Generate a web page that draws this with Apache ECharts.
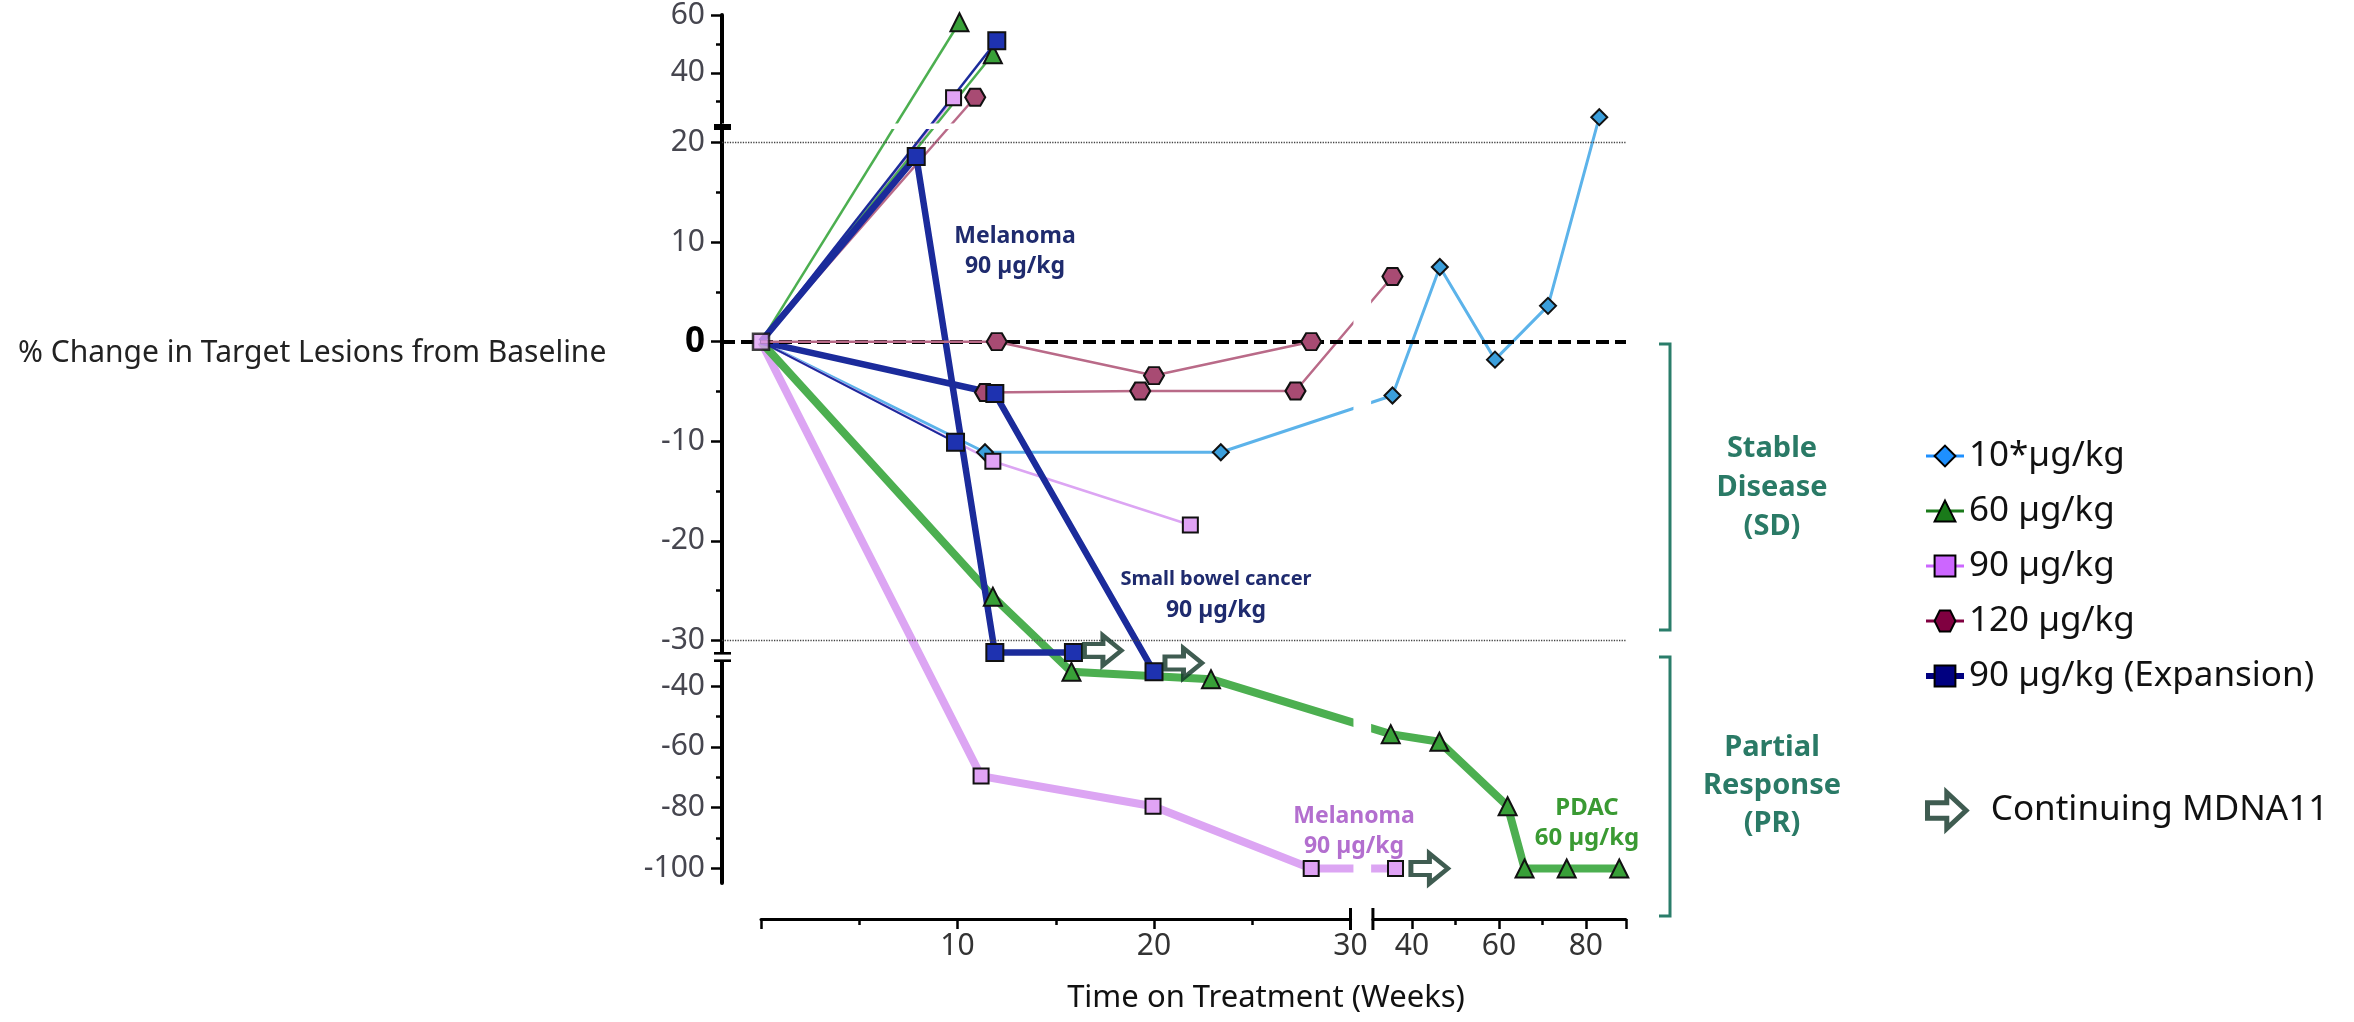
<!DOCTYPE html>
<html><head><meta charset="utf-8">
<script src="https://cdn.jsdelivr.net/npm/echarts@6/dist/echarts.min.js"></script>
<style>html,body{margin:0;padding:0;background:#fff}#c{width:2354px;height:1022px}</style>
</head><body><div id="c"></div>
<script>
// ---------------- DATA (weeks on treatment, % change from baseline) ----------------
const groupNames = ['10*µg/kg', '60 µg/kg', '90 µg/kg', '120 µg/kg', '90 µg/kg (Expansion)'];

// 10 µg/kg
const d10a_weeks = [0, 11.4, 23.4, 35.5, 46.4, 59.1, 71.3, 83.1];
const d10a_pct   = [0, -11.1, -11.1, -5.4, 7.5, -1.8, 3.6, 24.6];

// 60 µg/kg
const d60a_weeks = [0, 10.1];
const d60a_pct   = [0, 57.5];
const d60b_weeks = [0, 11.8];
const d60b_pct   = [0, 46.4];
const d60c_weeks = [0, 11.8, 15.8, 22.9, 35.1, 46.3, 62.0, 65.9, 75.6, 87.7];   // PDAC
const d60c_pct   = [0, -25.6, -35.3, -37.7, -55.8, -58.3, -79.5, -100, -100, -100];

// 90 µg/kg
const d90a_weeks = [0, 11.2, 19.95, 28.0, 36.2];                            // Melanoma
const d90a_pct   = [0, -69.6, -79.5, -100, -100];
const d90b_weeks = [0, 9.8];
const d90b_pct   = [0, 31.3];
const d90c_weeks = [0, 11.8, 21.85];
const d90c_pct   = [0, -12.0, -18.4];

// 120 µg/kg
const d120a_weeks = [0, 12.0, 20.0, 28.0];
const d120a_pct   = [0, 0, -3.4, 0];
const d120b_weeks = [0, 11.4, 19.3, 27.2, 35.5];
const d120b_pct   = [0, -5.1, -4.95, -4.95, 6.55];
const d120c_weeks = [0, 10.9];
const d120c_pct   = [0, 31.5];

// 90 µg/kg (Expansion)
const dExpA_weeks = [0, 7.9, 11.9, 15.9];                                   // Melanoma
const dExpA_pct   = [0, 18.6, -31.2, -31.2];
const dExpB_weeks = [0, 11.9, 20.0];                                        // Small bowel cancer
const dExpB_pct   = [0, -5.2, -35.3];
const dExpC_weeks = [0, 12.0];
const dExpC_pct   = [0, 51.1];
const dExpD_weeks = [0, 9.9];
const dExpD_pct   = [0, -10.1];

// baseline marker
const baseline_weeks = [0];
const baseline_pct   = [0];

// Continuing MDNA11 arrows
const cont_weeks = [17.4, 21.5, 44.0];
const cont_pct   = [-31.0, -32.4, -100];

// tick labels
const yTickLabels  = [60, 40, 20, 10, 0, -10, -20, -30, -40, -60, -80, -100];
const yMinorTicks  = [50, 30, 15, 5, -5, -15, -25, -50, -70, -90];
const xLabelsLeft  = [10, 20, 30];
const xLabelsRight = [40, 60, 80];
const xMinorRight  = [50, 70];

// ---------------- broken-axis scale transforms ----------------
const X_BREAK = 30, X_GAP = 0.92, X_K = 0.2211;
const Y_HI = 21.7, Y_HI_K = 0.2897, Y_LO = -32.2, Y_LO_K = 0.3052;
const tx = w => w <= X_BREAK ? w : X_BREAK + X_GAP + (w - X_BREAK) * X_K;
const ty = v => v > Y_HI ? Y_HI + (v - Y_HI) * Y_HI_K : (v < Y_LO ? Y_LO + (v - Y_LO) * Y_LO_K : v);

const FONT = '"Noto Sans", "Open Sans", "DejaVu Sans", sans-serif';

const STY = {
  '10*µg/kg':  {symbol: 'diamond', size: 16, fill: '#3b9fdc', line: '#5cb3ea'},
  '60 µg/kg':  {symbol: 'triangle', size: 18, fill: '#38a038', line: '#4caf50'},
  '90 µg/kg':  {symbol: 'rect', size: 15, fill: '#e0a3f5', line: '#dca5f3'},
  '120 µg/kg': {symbol: 'path://M-1,0 L-0.5,-0.866 L0.5,-0.866 L1,0 L0.5,0.866 L-0.5,0.866 Z', size: [20, 17], fill: '#a84b73', line: '#b96a88'},
  '90 µg/kg (Expansion)': {symbol: 'rect', size: 17, fill: '#1e32b0', line: '#1b2b9b'}
};

function patient(name, weeks, pct, width, z) {
  const s = STY[name];
  return {
    type: 'line', name, xAxisIndex: 0, yAxisIndex: 0, z: z || 2,
    data: weeks.map((w, i) => i === 0 ? {value: [tx(w), ty(pct[i])], symbol: 'none'} : [tx(w), ty(pct[i])]),
    symbol: s.symbol, symbolSize: s.size, showSymbol: true, showAllSymbol: true,
    lineStyle: {color: s.line, width: width},
    itemStyle: {color: s.fill, borderColor: '#111', borderWidth: 2},
    emphasis: {disabled: true}, animation: false, silent: true
  };
}

// ---------------- layout ----------------
const X0 = 761, PXW = 19.65;             // px of week 0, px per week (first segment)
const Y0 = 341.7, PXP = 9.96;            // px of 0 %, px per % (middle segment)
const G_TOP = 15, G_BOTTOM = 883, G_LEFT = 722, G_RIGHT = 1626;
const xMinU = (G_LEFT - X0) / PXW, xMaxU = (G_RIGHT - X0) / PXW;
const yMaxU = (Y0 - G_TOP) / PXP, yMinU = (Y0 - G_BOTTOM) / PXP;
const R_MIN = 31, R_MAX = 89.2;
const rLeft = X0 + tx(R_MIN) * PXW, rRight = X0 + tx(R_MAX) * PXW;
const MASKS = [[30.15, 31.05, yMinU, yMaxU], [xMinU, 30.15, 21.36, 21.9]];

const chart = echarts.init(document.getElementById('c'), null, {renderer: 'canvas'});

const ARROW = 'path://M0,8 L15,8 L15,0 L30,14 L15,28 L15,20 L0,20 Z';

const series = [
  patient('10*µg/kg', d10a_weeks, d10a_pct, 3),
  patient('120 µg/kg', d120b_weeks, d120b_pct, 2.5),
  patient('120 µg/kg', d120c_weeks, d120c_pct, 2.5),
  patient('90 µg/kg', d90c_weeks, d90c_pct, 2.5),
  patient('90 µg/kg', d90b_weeks, d90b_pct, 2.5),
  patient('90 µg/kg', d90a_weeks, d90a_pct, 8),
  patient('60 µg/kg', d60a_weeks, d60a_pct, 2.5),
  patient('60 µg/kg', d60b_weeks, d60b_pct, 2.5),
  patient('60 µg/kg', d60c_weeks, d60c_pct, 8),
  patient('90 µg/kg (Expansion)', dExpD_weeks, dExpD_pct, 2),
  patient('90 µg/kg (Expansion)', dExpC_weeks, dExpC_pct, 2.5),
  patient('90 µg/kg (Expansion)', dExpB_weeks, dExpB_pct, 6.5),
  patient('90 µg/kg (Expansion)', dExpA_weeks, dExpA_pct, 6.5),
  patient('120 µg/kg', d120a_weeks, d120a_pct, 2.5, 5),
  {
    type: 'scatter', name: '90 µg/kg', xAxisIndex: 0, yAxisIndex: 0, z: 6, silent: true,
    data: baseline_weeks.map((w, i) => [tx(w), ty(baseline_pct[i])]),
    symbol: 'rect', symbolSize: 16,
    itemStyle: {color: '#e0a3f5', borderColor: '#111', borderWidth: 2.5}
  },
  {
    type: 'scatter', name: 'Continuing MDNA11', xAxisIndex: 0, yAxisIndex: 0, z: 6, silent: true,
    data: cont_weeks.map((w, i) => [tx(w), ty(cont_pct[i])]),
    symbol: ARROW, symbolSize: [37, 30],
    itemStyle: {color: '#ffffff', borderColor: '#0f3325', borderWidth: 4.5}
  },
  {
    type: 'custom', xAxisIndex: 0, yAxisIndex: 0, z: 3, silent: true,
    data: MASKS.map(() => [0, 0]),
    renderItem: (params, api) => {
      const b = MASKS[params.dataIndex];
      const a = api.coord([b[0], b[3]]), c = api.coord([b[1], b[2]]);
      return {type: 'rect', shape: {x: a[0], y: a[1], width: c[0] - a[0], height: c[1] - a[1]}, style: {fill: '#fff'}};
    }
  },
  {
    type: 'line', xAxisIndex: 0, yAxisIndex: 0, z: 4, data: [], silent: true,
    markLine: {
      z: 4, symbol: 'none', silent: true, animation: false, label: {show: false},
      data: [
        {yAxis: ty(0), lineStyle: {type: [13, 6], color: '#000', width: 4}},
        {yAxis: ty(20), lineStyle: {type: 'dotted', color: '#444', width: 1.3}},
        {yAxis: ty(-30), lineStyle: {type: 'dotted', color: '#444', width: 1.3}}
      ]
    }
  }
];

const tickStyle = {color: '#000', width: 2.5};

chart.setOption({
  backgroundColor: '#fff',
  animation: false,
  grid: [
    {left: G_LEFT, top: G_TOP, width: G_RIGHT - G_LEFT, height: G_BOTTOM - G_TOP},
    {left: X0, top: G_TOP, width: X_BREAK * PXW, height: G_BOTTOM - G_TOP},
    {left: rLeft, top: G_TOP, width: rRight - rLeft, height: G_BOTTOM - G_TOP}
  ],
  xAxis: [
    {gridIndex: 0, type: 'value', min: xMinU, max: xMaxU, show: false},
    {gridIndex: 1, type: 'value', min: 0, max: 30, interval: 10, position: 'bottom', offset: 36,
     axisLine: {onZero: false, lineStyle: {color: '#000', width: 3}},
     axisTick: {length: 10, lineStyle: tickStyle},
     minorTick: {show: true, splitNumber: 2, length: 6, lineStyle: tickStyle},
     splitLine: {show: false}, minorSplitLine: {show: false},
     axisLabel: {customValues: xLabelsLeft, margin: 12, fontSize: 30, color: '#333', fontFamily: FONT}},
    {gridIndex: 2, type: 'value', min: R_MIN, max: R_MAX, position: 'bottom', offset: 36,
     axisLine: {onZero: false, lineStyle: {color: '#000', width: 3}},
     axisTick: {customValues: xLabelsRight.concat([R_MAX]), length: 10, lineStyle: tickStyle},
     splitLine: {show: false},
     axisLabel: {customValues: xLabelsRight, margin: 12, fontSize: 30, color: '#333', fontFamily: FONT}},
    {gridIndex: 2, type: 'value', min: R_MIN, max: R_MAX, position: 'bottom', offset: 36,
     axisLine: {show: false, onZero: false},
     axisTick: {customValues: xMinorRight, length: 6, lineStyle: tickStyle},
     splitLine: {show: false}, axisLabel: {show: false}}
  ],
  yAxis: [
    {gridIndex: 0, type: 'value', min: yMinU, max: yMaxU, position: 'left',
     axisLine: {show: true, onZero: false, lineStyle: {color: '#000', width: 4}},
     axisTick: {customValues: yTickLabels.map(ty), length: 11, lineStyle: tickStyle},
     splitLine: {show: false},
     axisLabel: {
       customValues: yTickLabels.map(ty), margin: 17,
       formatter: (val) => {
         const t = yTickLabels.find(t => Math.abs(ty(t) - val) < 1e-6);
         return t === 0 ? '{z|0}' : '{n|' + t + '}';
       },
       rich: {
         z: {fontSize: 35, fontWeight: 'bold', color: '#000', fontFamily: FONT},
         n: {fontSize: 30, color: '#46464f', fontFamily: FONT}
       }
     }},
    {gridIndex: 0, type: 'value', min: yMinU, max: yMaxU, position: 'left',
     axisLine: {show: false, onZero: false},
     axisTick: {customValues: yMinorTicks.map(ty), length: 6, lineStyle: tickStyle},
     splitLine: {show: false}, axisLabel: {show: false}},
    {gridIndex: 1, type: 'value', show: false, min: 0, max: 1},
    {gridIndex: 2, type: 'value', show: false, min: 0, max: 1}
  ],
  legend: [
    {
      orient: 'vertical', left: 1918, top: 431, itemWidth: 38, itemHeight: 26, itemGap: 15,
      selectedMode: false,
      textStyle: {fontSize: 35, color: '#111', fontFamily: FONT, lineHeight: 40},
      data: [
        {name: groupNames[0], itemStyle: {color: '#1e90ff', borderColor: '#000', borderWidth: 2}, lineStyle: {color: '#1e90ff', width: 3}},
        {name: groupNames[1], itemStyle: {color: '#1a7a1a', borderColor: '#000', borderWidth: 2}, lineStyle: {color: '#1a7a1a', width: 3}},
        {name: groupNames[2], itemStyle: {color: '#cc66ff', borderColor: '#000', borderWidth: 2}, lineStyle: {color: '#cc66ff', width: 3}},
        {name: groupNames[3], itemStyle: {color: '#800040', borderColor: '#000', borderWidth: 2}, lineStyle: {color: '#800040', width: 3}},
        {name: groupNames[4], itemStyle: {color: '#000080', borderColor: '#000', borderWidth: 2}, lineStyle: {color: '#000080', width: 6}}
      ]
    },
    {
      orient: 'vertical', left: 1920, top: 785, itemWidth: 46, itemHeight: 36, selectedMode: false,
      textStyle: {fontSize: 35, color: '#111', fontFamily: FONT, padding: [0, 0, 0, 16]},
      data: [{name: 'Continuing MDNA11', itemStyle: {color: '#fff', borderColor: '#0f3325', borderWidth: 5}}]
    }
  ],
  series: series,
  graphic: [
    {type: 'text', x: 18, y: 353, z: 10, style: {text: '% Change in Target Lesions from Baseline', fontSize: 30, fill: '#222', fontFamily: FONT, verticalAlign: 'middle', align: 'left'}},
    {type: 'text', x: 1266, y: 998, z: 10, style: {text: 'Time on Treatment (Weeks)', fontSize: 31, fill: '#111', fontFamily: FONT, verticalAlign: 'middle', align: 'center'}},
    // y-axis break marks
    {type: 'rect', z: 10, shape: {x: 714, y: 124, width: 17, height: 6}, style: {fill: '#000'}},
    {type: 'rect', z: 10, shape: {x: 712, y: 652, width: 21, height: 10}, style: {fill: '#fff'}},
    {type: 'rect', z: 11, shape: {x: 714, y: 652, width: 17, height: 2.6}, style: {fill: '#000'}},
    {type: 'rect', z: 11, shape: {x: 714, y: 659.4, width: 17, height: 2.6}, style: {fill: '#000'}},
    // x-axis break end ticks
    {type: 'line', z: 10, shape: {x1: X0 + X_BREAK * PXW, y1: 908, x2: X0 + X_BREAK * PXW, y2: 930}, style: {stroke: '#000', lineWidth: 3}},
    {type: 'line', z: 10, shape: {x1: rLeft, y1: 908, x2: rLeft, y2: 930}, style: {stroke: '#000', lineWidth: 3}},
    // brackets
    {type: 'polyline', z: 10, shape: {points: [[1659, 344], [1670, 344], [1670, 630], [1659, 630]]}, style: {stroke: '#2a7d6a', lineWidth: 3, fill: null}},
    {type: 'polyline', z: 10, shape: {points: [[1659, 657], [1670, 657], [1670, 916], [1659, 916]]}, style: {stroke: '#2a7d6a', lineWidth: 3, fill: null}},
    {type: 'text', x: 1772, y: 488, z: 10, style: {text: 'Stable\nDisease\n(SD)', fontSize: 29, fontWeight: 'bold', lineHeight: 39, fill: '#2a7a66', fontFamily: FONT, align: 'center', verticalAlign: 'middle'}},
    {type: 'text', x: 1772, y: 786, z: 10, style: {text: 'Partial\nResponse\n(PR)', fontSize: 29, fontWeight: 'bold', lineHeight: 38, fill: '#2a7a66', fontFamily: FONT, align: 'center', verticalAlign: 'middle'}},
    // annotations
    {type: 'text', x: 1015, y: 251, z: 10, style: {text: 'Melanoma\n90 µg/kg', fontSize: 23, fontWeight: 'bold', lineHeight: 30, fill: '#1f2b6e', fontFamily: FONT, align: 'center', verticalAlign: 'middle'}},
    {type: 'text', x: 1216, y: 595, z: 10, style: {text: '{a|Small bowel cancer}\n{b|90 µg/kg}', fontWeight: 'bold', fill: '#1f2b6e', fontFamily: FONT, align: 'center', verticalAlign: 'middle',
      rich: {a: {fontSize: 20, fontWeight: 'bold', lineHeight: 31, fill: '#1f2b6e', fontFamily: FONT}, b: {fontSize: 23, fontWeight: 'bold', lineHeight: 31, fill: '#1f2b6e', fontFamily: FONT}}}},
    {type: 'text', x: 1354, y: 831, z: 10, style: {text: 'Melanoma\n90 µg/kg', fontSize: 23, fontWeight: 'bold', lineHeight: 30, fill: '#b36fcf', fontFamily: FONT, align: 'center', verticalAlign: 'middle'}},
    {type: 'text', x: 1587, y: 823, z: 10, style: {text: 'PDAC\n60 µg/kg', fontSize: 24, fontWeight: 'bold', lineHeight: 30, fill: '#3a9a33', fontFamily: FONT, align: 'center', verticalAlign: 'middle'}}
  ]
});
</script>
</body></html>
